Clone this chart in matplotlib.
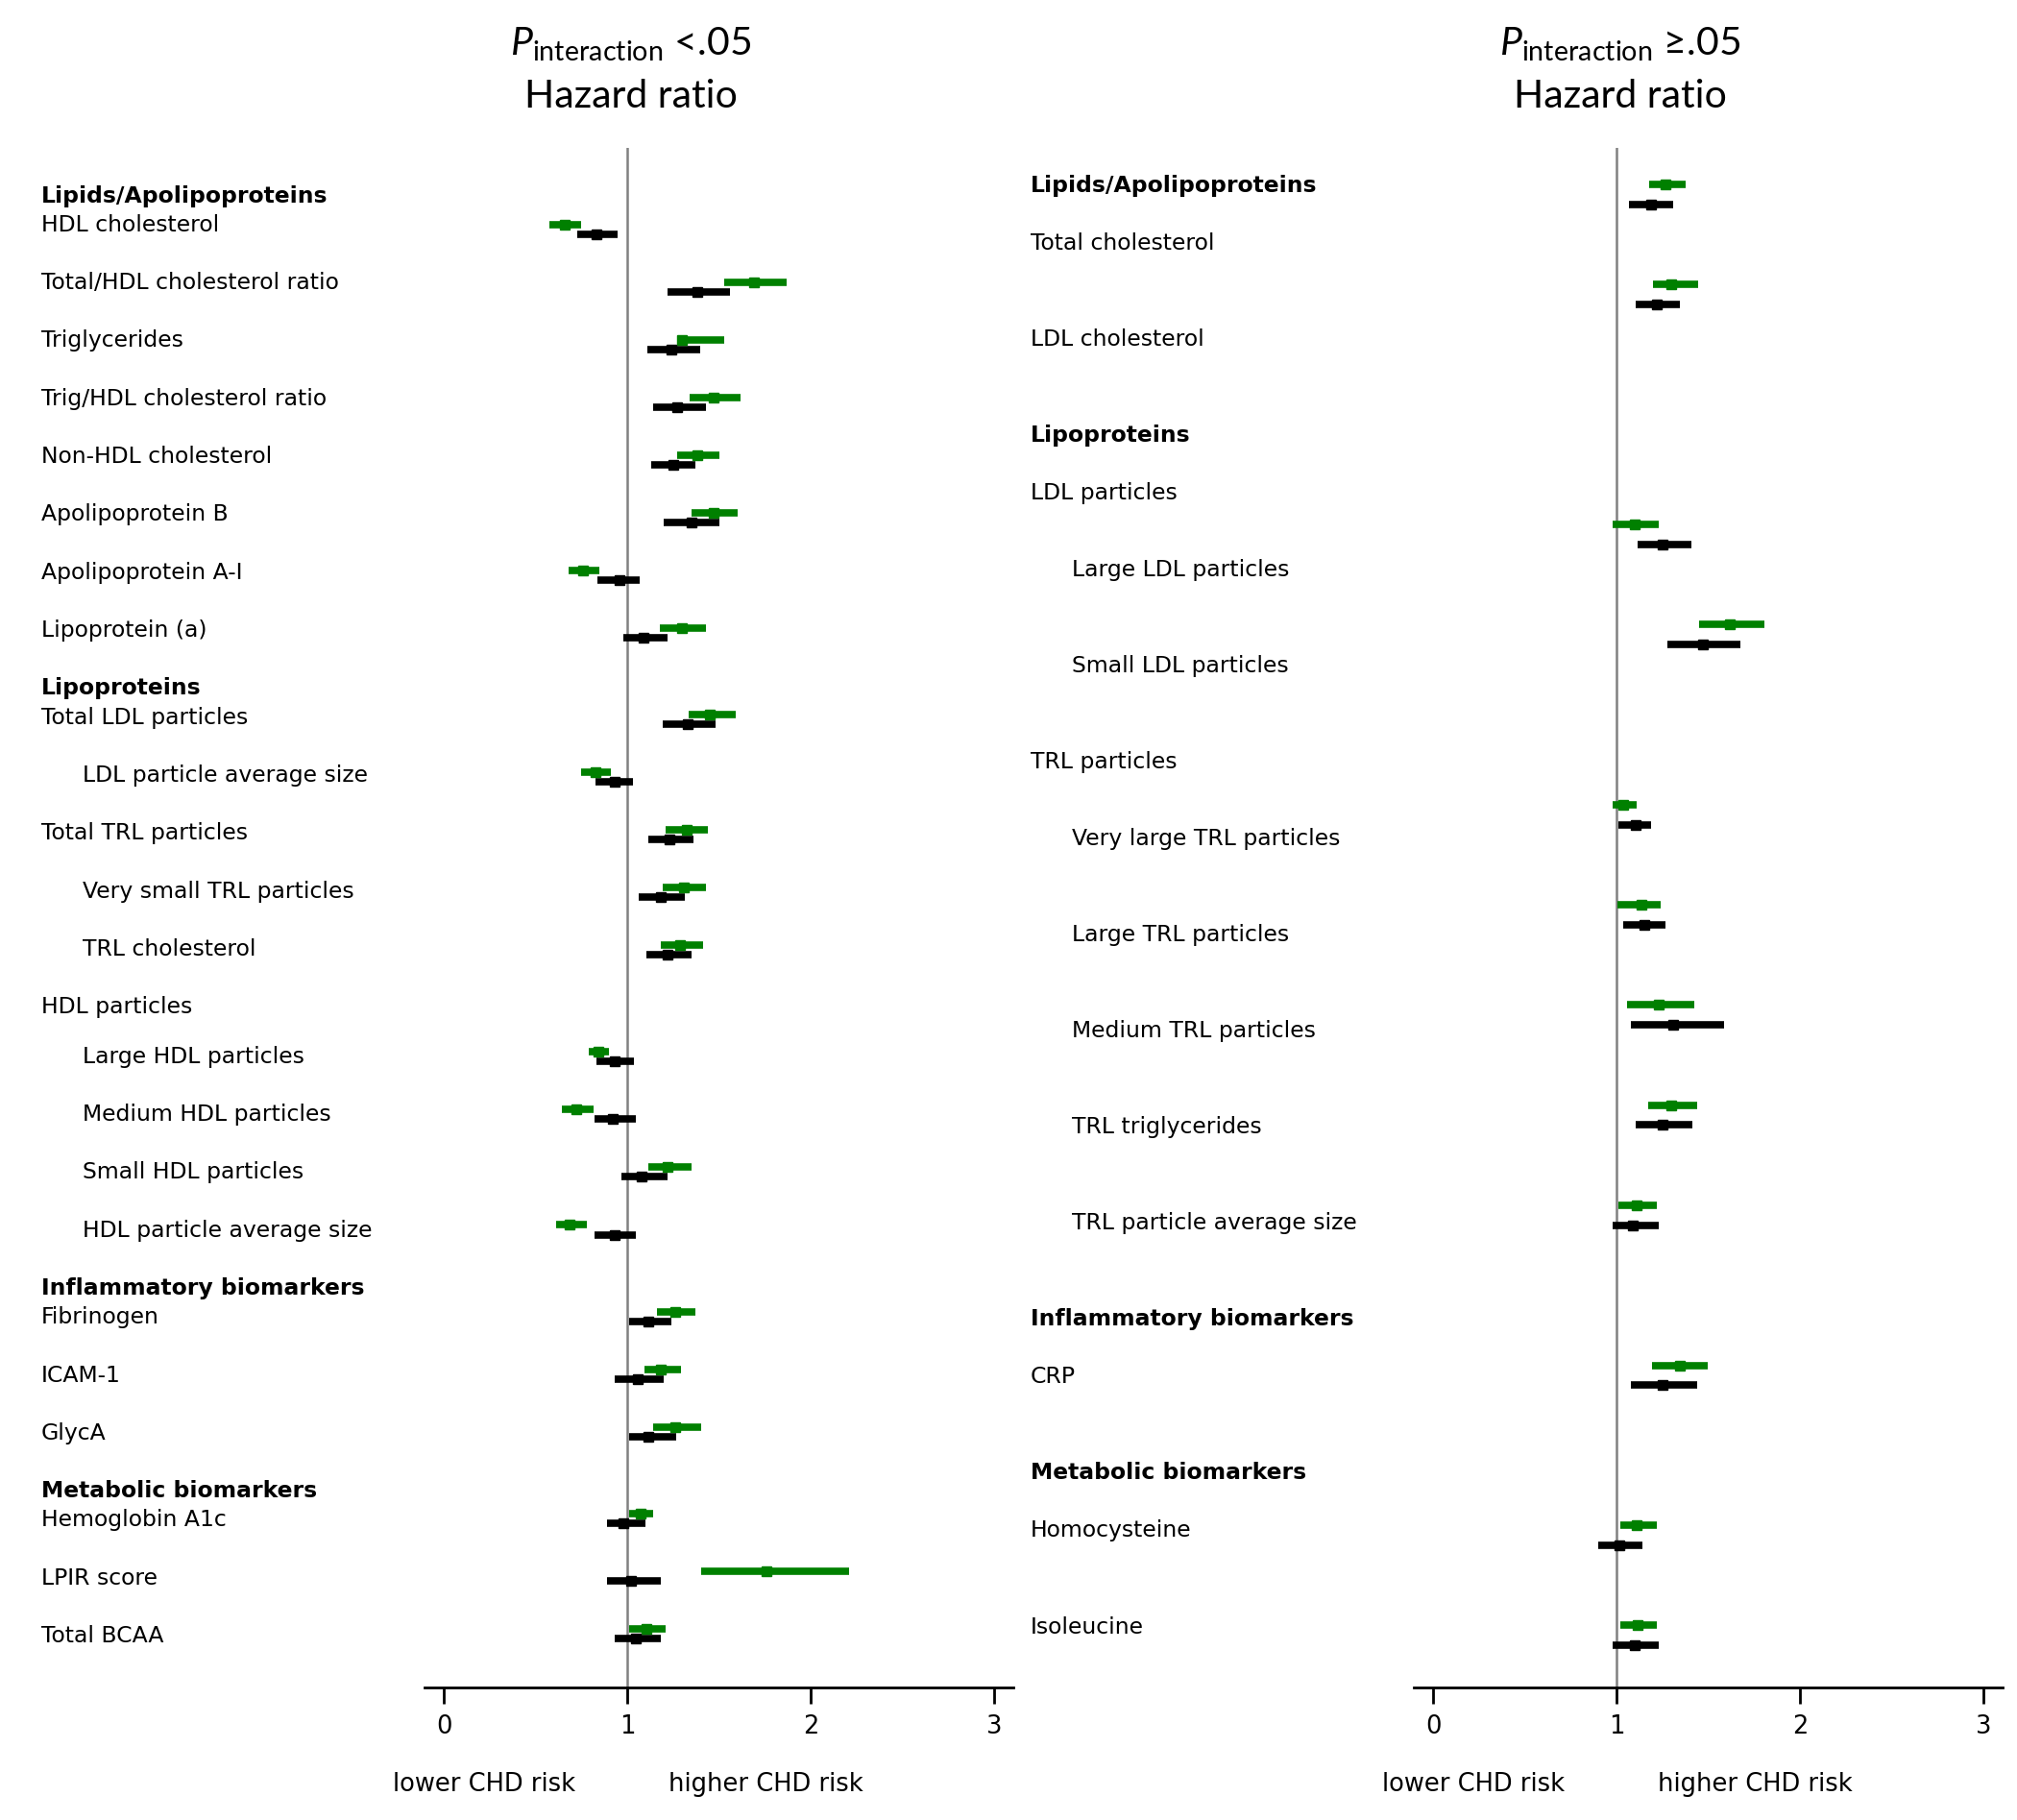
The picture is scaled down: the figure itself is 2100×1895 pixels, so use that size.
import numpy as np
import matplotlib
matplotlib.use("Agg")
import matplotlib.pyplot as plt
from matplotlib import transforms

plt.rcParams["font.family"] = ["DejaVu Sans"]
plt.rcParams["mathtext.fontset"] = "custom"
plt.rcParams["mathtext.rm"] = "Lato"
plt.rcParams["mathtext.it"] = "Lato:italic"

# ---- left panel: P interaction < .05
# kinds: h = bold header, s = plain sub-header (no bars), i = item, n = indented item
left_labels = [
    "Lipids/Apolipoproteins", "HDL cholesterol", "Total/HDL cholesterol ratio",
    "Triglycerides", "Trig/HDL cholesterol ratio", "Non-HDL cholesterol",
    "Apolipoprotein B", "Apolipoprotein A-I", "Lipoprotein (a)",
    "Lipoproteins", "Total LDL particles", "LDL particle average size",
    "Total TRL particles", "Very small TRL particles", "TRL cholesterol",
    "HDL particles", "Large HDL particles", "Medium HDL particles",
    "Small HDL particles", "HDL particle average size",
    "Inflammatory biomarkers", "Fibrinogen", "ICAM-1", "GlycA",
    "Metabolic biomarkers", "Hemoglobin A1c", "LPIR score", "Total BCAA",
]
left_kinds = ["h", "i", "i", "i", "i", "i", "i", "i", "i",
              "h", "i", "n", "i", "n", "n",
              "s", "n", "n", "n", "n",
              "h", "i", "i", "i",
              "h", "i", "i", "i"]

left_green_est = [0.66, 1.69, 1.30, 1.47, 1.38, 1.47, 0.76, 1.30,
                  1.449, 0.829, 1.323, 1.311, 1.290,
                  0.845, 0.721, 1.222, 0.688,
                  1.260, 1.183, 1.260,
                  1.075, 1.759, 1.103]
left_green_lo = [0.576, 1.53, 1.27, 1.34, 1.27, 1.35, 0.68, 1.18,
                 1.333, 0.749, 1.209, 1.194, 1.183,
                 0.792, 0.642, 1.113, 0.611,
                 1.162, 1.092, 1.141,
                 1.012, 1.403, 1.009]
left_green_hi = [0.75, 1.87, 1.53, 1.62, 1.50, 1.60, 0.85, 1.43,
                 1.590, 0.911, 1.440, 1.429, 1.414,
                 0.899, 0.818, 1.349, 0.780,
                 1.370, 1.291, 1.403,
                 1.141, 2.209, 1.209]
left_black_est = [0.83, 1.38, 1.24, 1.27, 1.25, 1.35, 0.96, 1.09,
                  1.332, 0.930, 1.230, 1.183, 1.222,
                  0.930, 0.920, 1.079, 0.930,
                  1.115, 1.058, 1.117,
                  0.981, 1.023, 1.047]
left_black_lo = [0.73, 1.22, 1.11, 1.14, 1.13, 1.20, 0.84, 0.98,
                 1.194, 0.829, 1.113, 1.061, 1.103,
                 0.831, 0.820, 0.969, 0.820,
                 1.012, 0.932, 1.012,
                 0.890, 0.890, 0.932]
left_black_hi = [0.95, 1.56, 1.40, 1.43, 1.37, 1.50, 1.07, 1.22,
                 1.483, 1.033, 1.361, 1.312, 1.351,
                 1.038, 1.049, 1.218, 1.049,
                 1.241, 1.199, 1.269,
                 1.101, 1.183, 1.183]

# ---- right panel: P interaction >= .05
right_labels = [
    "Lipids/Apolipoproteins", "Total cholesterol", "LDL cholesterol",
    "Lipoproteins", "LDL particles", "Large LDL particles", "Small LDL particles",
    "TRL particles", "Very large TRL particles", "Large TRL particles",
    "Medium TRL particles", "TRL triglycerides", "TRL particle average size",
    "Inflammatory biomarkers", "CRP",
    "Metabolic biomarkers", "Homocysteine", "Isoleucine",
]
right_kinds = ["h", "i", "i",
               "h", "s", "n", "n",
               "s", "n", "n", "n", "n", "n",
               "h", "i",
               "h", "i", "i"]

right_green_est = [1.268, 1.299, 1.101, 1.618, 1.038, 1.138, 1.230, 1.299,
                   1.111, 1.343, 1.111, 1.117]
right_green_lo = [1.176, 1.198, 0.979, 1.449, 0.979, 1.007, 1.059, 1.172,
                  1.010, 1.193, 1.023, 1.023]
right_green_hi = [1.378, 1.447, 1.230, 1.806, 1.111, 1.240, 1.426, 1.439,
                  1.219, 1.496, 1.219, 1.219]
right_black_est = [1.191, 1.219, 1.252, 1.470, 1.103, 1.151, 1.310, 1.252,
                   1.091, 1.252, 1.014, 1.099]
right_black_lo = [1.070, 1.103, 1.113, 1.278, 1.009, 1.038, 1.080, 1.103,
                  0.979, 1.080, 0.899, 0.979]
right_black_hi = [1.310, 1.346, 1.409, 1.677, 1.191, 1.268, 1.588, 1.411,
                  1.230, 1.439, 1.139, 1.230]

xticks = [0, 1, 2, 3]

FIG_W, FIG_H = 2100, 1895
TOP_PX, BOT_PX = 154, 1757


def row_positions(kinds, header_step, sub_step):
    rows = []
    r = 0.0
    for k in kinds:
        rows.append(r)
        if k == "h":
            r += header_step
        elif k == "s":
            r += sub_step
        else:
            r += 1.0
    return np.array(rows)


def ylim_from(px0, px_per_row):
    # row -> pixel mapping, turned into an inverted ylim for the axes box
    return ((BOT_PX - px0) / px_per_row, (TOP_PX - px0) / px_per_row)


fig = plt.figure(figsize=(FIG_W / 100, FIG_H / 100), dpi=100)


def draw_panel(left_px, labels, kinds, g, b, header_step, sub_step,
               label_map, bar_map, x_plain, x_indent, offset, title):
    rect = [left_px / FIG_W, 1 - BOT_PX / FIG_H, 613 / FIG_W, (BOT_PX - TOP_PX) / FIG_H]
    ax = fig.add_axes(rect)
    lab_ax = fig.add_axes(rect)
    lab_ax.axis("off")
    lab_ax.set_ylim(*ylim_from(*label_map))

    rows = row_positions(kinds, header_step, sub_step)
    trans = transforms.blended_transform_factory(fig.transFigure, lab_ax.transData)
    for lab, k, r in zip(labels, kinds, rows):
        x = x_indent if k == "n" else x_plain
        lab_ax.text(x / FIG_W, r, lab, transform=trans, ha="left", va="center",
                    fontsize=16.9, fontweight="bold" if k == "h" else "normal")

    bar_rows = np.array([r for r, k in zip(rows, kinds) if k in ("i", "n")])
    for (lo, est, hi), color, dy in ((g, "green", 0.0), (b, "black", offset)):
        lo, est, hi = np.array(lo), np.array(est), np.array(hi)
        ax.errorbar(est, bar_rows + dy, xerr=[est - lo, hi - est], fmt="s",
                    color=color, ecolor=color, elinewidth=5.5, markersize=7.5,
                    capsize=0, zorder=3)

    ax.axvline(1, color="gray", lw=1.8, zorder=1)
    ax.set_xlim(-0.105, 3.105)
    ax.set_ylim(*ylim_from(*bar_map))
    ax.set_xticks(xticks)
    ax.set_xticklabels([str(t) for t in xticks], fontsize=18.5)
    ax.set_yticks([])
    for s in ("top", "left", "right"):
        ax.spines[s].set_visible(False)
    ax.spines["bottom"].set_linewidth(2)
    ax.tick_params(axis="x", length=12, width=2, pad=8)

    tb = transforms.blended_transform_factory(ax.transData, fig.transFigure)
    ax.text(0.72, 1 - 1858 / FIG_H, "lower CHD risk", transform=tb,
            ha="right", va="center", fontsize=18.5)
    ax.text(1.225, 1 - 1858 / FIG_H, "higher CHD risk", transform=tb,
            ha="left", va="center", fontsize=18.5)
    ax.text(1.02, 1 - 58 / FIG_H, title, transform=tb, ha="center",
            va="baseline", fontsize=29.5, family=["Lato", "DejaVu Sans"])
    ax.text(1.02, 1 - 112.5 / FIG_H, "Hazard ratio", transform=tb, ha="center",
            va="baseline", fontsize=29.5, family=["Lato", "DejaVu Sans"])


draw_panel(442, left_labels, left_kinds,
           (left_green_lo, left_green_est, left_green_hi),
           (left_black_lo, left_black_est, left_black_hi),
           0.5, 0.85, (204, 60.35), (203.6, 60.05), 43, 86, 0.167,
           r"$\mathit{P}_{\mathrm{interaction}}$ <.05")
draw_panel(1472, right_labels, right_kinds,
           (right_green_lo, right_green_est, right_green_hi),
           (right_black_lo, right_black_est, right_black_hi),
           0.6, 0.8, (193, 100.07), (129.5, 104.2), 1073, 1116, 0.2,
           r"$\mathit{P}_{\mathrm{interaction}}$ ≥.05")

fig.savefig("out.png", dpi=100)
